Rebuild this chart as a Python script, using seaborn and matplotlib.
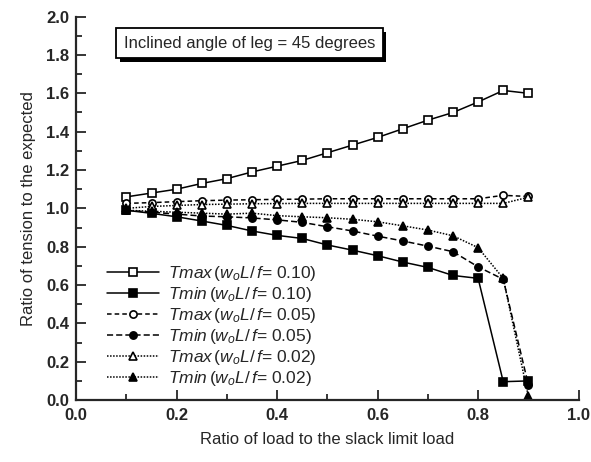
import matplotlib
matplotlib.use("Agg")
import matplotlib.pyplot as plt
import matplotlib.patheffects as pe
import seaborn as sns
import numpy as np
import pandas as pd

ratio = [0.10, 0.15, 0.20, 0.25, 0.30, 0.35, 0.40, 0.45, 0.50,
         0.55, 0.60, 0.65, 0.70, 0.75, 0.80, 0.85, 0.90]

tmax_010 = [1.06, 1.08, 1.10, 1.13, 1.155, 1.19, 1.22, 1.25, 1.29,
            1.33, 1.37, 1.415, 1.46, 1.50, 1.555, 1.615, 1.60]
tmin_010 = [0.99, 0.974, 0.956, 0.934, 0.911, 0.882, 0.859, 0.843, 0.809,
            0.782, 0.753, 0.72, 0.692, 0.650, 0.635, 0.096, 0.10]
tmax_005 = [1.026, 1.03, 1.035, 1.04, 1.043, 1.045, 1.047, 1.048, 1.05,
            1.05, 1.05, 1.05, 1.05, 1.05, 1.05, 1.068, 1.062]
tmin_005 = [0.99, 0.98, 0.97, 0.96, 0.956, 0.95, 0.94, 0.927, 0.904,
            0.882, 0.855, 0.83, 0.803, 0.774, 0.695, 0.63, 0.08]
tmax_002 = [1.0, 1.01, 1.015, 1.02, 1.022, 1.024, 1.025, 1.026, 1.026,
            1.026, 1.026, 1.026, 1.026, 1.026, 1.026, 1.026, 1.058]
tmin_002 = [0.99, 0.985, 0.98, 0.975, 0.97, 0.975, 0.962, 0.956, 0.951,
            0.943, 0.93, 0.909, 0.887, 0.857, 0.795, 0.635, 0.02]

labels = [r"$Tmax\,(w_oL/\,f$= 0.10)",
          r"$Tmin\,(w_oL/\,f$= 0.10)",
          r"$Tmax\,(w_oL/\,f$= 0.05)",
          r"$Tmin\,(w_oL/\,f$= 0.05)",
          r"$Tmax\,(w_oL/\,f$= 0.02)",
          r"$Tmin\,(w_oL/\,f$= 0.02)"]
series = [tmax_010, tmin_010, tmax_005, tmin_005, tmax_002, tmin_002]

sns.set_style("ticks")
plt.rcParams['font.family'] = ['Liberation Sans', 'DejaVu Sans']
plt.rcParams['mathtext.fontset'] = 'custom'
plt.rcParams['mathtext.it'] = 'Liberation Sans:italic'
plt.rcParams['mathtext.rm'] = 'Liberation Sans'

fig = plt.figure(figsize=(5.91, 4.62), dpi=100)
ax = fig.add_axes([0.129, 0.134, 0.850, 0.830])

styles = [
    dict(marker='s', mfc='white', ls='-'),
    dict(marker='s', mfc='black', ls='-'),
    dict(marker='o', mfc='white', ls=(0, (3, 2))),
    dict(marker='o', mfc='black', ls=(0, (4, 2))),
    dict(marker='^', mfc='white', ls=(0, (1, 1))),
    dict(marker='^', mfc='black', ls=(0, (1, 1))),
]

for vals, lab, st in zip(series, labels, styles):
    df = pd.DataFrame({"x": ratio, "y": vals})
    sns.lineplot(data=df, x="x", y="y", ax=ax, color='black', lw=1.1,
                 linestyle=st['ls'], marker=st['marker'],
                 markerfacecolor=st['mfc'], markeredgecolor='black',
                 markeredgewidth=1.2, markersize=5.2, label=lab)

ax.set_xlim(0, 1.0)
ax.set_ylim(0, 2.0)
ax.set_xticks(np.arange(0, 1.01, 0.2))
ax.set_xticks(np.arange(0.1, 1.0, 0.2), minor=True)
ax.set_yticks(np.arange(0, 2.01, 0.2))
ax.set_yticks(np.arange(0.1, 2.0, 0.2), minor=True)
ax.set_xticklabels([f"{v:.1f}" for v in np.arange(0, 1.01, 0.2)], fontweight='bold', fontsize=12)
ax.set_yticklabels([f"{v:.1f}" for v in np.arange(0, 2.01, 0.2)], fontweight='bold', fontsize=12)
ax.tick_params(axis='both', which='both', direction='in', width=1.3)
ax.tick_params(axis='both', which='major', length=7)
ax.tick_params(axis='x', which='major', pad=6)
ax.tick_params(axis='y', which='major', pad=5)
ax.tick_params(axis='both', which='minor', length=4)
for s in ['left', 'bottom']:
    ax.spines[s].set_linewidth(1.6)
sns.despine(ax=ax)

ax.set_xlabel("Ratio of load to the slack limit load", fontsize=12, labelpad=6)
ax.set_ylabel("Ratio of tension to the expected", fontsize=12, labelpad=7)

t = ax.text(0.095, 0.93, "Inclined angle of leg = 45 degrees", transform=ax.transAxes,
            fontsize=12, va='center', ha='left',
            bbox=dict(boxstyle='square,pad=0.45', fc='white', ec='black', lw=1.3))
t.get_bbox_patch().set_path_effects([
    pe.SimplePatchShadow(offset=(2.5, -2.5), shadow_rgbFace='black', alpha=1.0),
    pe.Normal()])

leg = ax.legend(loc='lower left', bbox_to_anchor=(0.03, -0.01), frameon=False,
                fontsize=12.5, handlelength=3.0, labelspacing=0.12, handletextpad=0.5)

fig.savefig("out.png", dpi=100)
